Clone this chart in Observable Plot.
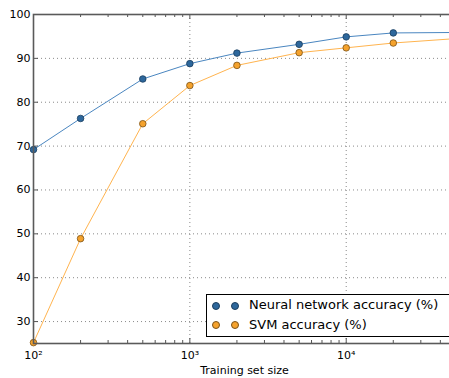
<!DOCTYPE html>
<html><head><meta charset="utf-8">
<script src="https://cdn.jsdelivr.net/npm/d3@7"></script>
<script src="https://cdn.jsdelivr.net/npm/@observablehq/plot@0.6"></script>
<style>
html,body{margin:0;padding:0;overflow:hidden;background:#fff;}
#wrap{position:relative;width:449px;height:378px;overflow:hidden;font-family:"DejaVu Sans",sans-serif;}
#wrap svg{max-width:none !important;}
#legend{position:absolute;left:206px;top:294px;width:260px;height:43px;border:1px solid #000;background:#fff;box-sizing:border-box;font-size:13px;color:#000;}
.mk{position:absolute;width:6px;height:6px;border-radius:50%;border:0.8px solid;}
.lbl{position:absolute;left:42px;white-space:nowrap;line-height:16px;}
</style>
</head><body><div id="wrap"></div>
<script>
const sizes = [100, 200, 500, 1000, 2000, 5000, 10000, 20000, 50000];
const nnAcc = [69.2, 76.3, 85.3, 88.8, 91.2, 93.2, 94.9, 95.8, 95.9];
const svmAcc = [25.2, 48.9, 75.1, 83.8, 88.4, 91.3, 92.4, 93.5, 94.5];
const seriesNames = ["Neural network accuracy (%)", "SVM accuracy (%)"];
const yTicks = [30, 40, 50, 60, 70, 80, 90, 100];
const yGrid = [30, 40, 50, 60, 70, 80, 90];
const xTicks = [100, 1000, 10000];
const xTickLabels = ["10²", "10³", "10⁴"];
const xGrid = [1000, 10000];
const xLabel = "Training set size";

const nnColor = {line: "#4a86c0", fill: "#2d679c", stroke: "#1b3d5e"};
const svmColor = {line: "#ffb44f", fill: "#f5a22c", stroke: "#7a5218"};

const nn = sizes.map((s, i) => ({size: s, acc: nnAcc[i]}));
const svm = sizes.map((s, i) => ({size: s, acc: svmAcc[i]}));
const xLabelMap = new Map(xTicks.map((t, i) => [t, xTickLabels[i]]));

const minorX = [];
for (const d of [100, 1000, 10000]) for (let k = 2; k <= 9; k++) if (d * k <= 50000) minorX.push(d * k);

const mT = 14, mB = 35, mL = 33, mR = 5, W = 460, H = 378;
const pH = H - mT - mB, pW = W - mL - mR;

const chart = Plot.plot({
  width: W, height: H,
  marginLeft: mL, marginRight: mR, marginTop: mT, marginBottom: mB,
  style: {fontFamily: "DejaVu Sans", fontSize: "11px", color: "#000", background: "#fff", maxWidth: "none"},
  x: {type: "log", domain: [100, 50000], axis: null},
  y: {domain: [25, 100], axis: null},
  marks: [
    Plot.gridY(yGrid, {stroke: "#8a8a8a", strokeOpacity: 1, strokeDasharray: "1,3"}),
    Plot.gridX(xGrid, {stroke: "#8a8a8a", strokeOpacity: 1, strokeDasharray: "1,3"}),
    Plot.tickX(minorX, {x: d => d, insetTop: pH - 3, stroke: "#555"}),
    Plot.tickX(minorX, {x: d => d, insetBottom: pH - 3, stroke: "#555"}),
    Plot.tickX(xTicks, {x: d => d, insetTop: pH - 5, stroke: "#555"}),
    Plot.tickX(xTicks, {x: d => d, insetBottom: pH - 5, stroke: "#555"}),
    Plot.tickY(yTicks, {y: d => d, insetRight: pW - 5, stroke: "#555"}),
    Plot.text(xTicks, {x: d => d, text: d => xLabelMap.get(d), frameAnchor: "bottom", dy: 12, lineAnchor: "middle", fontSize: 11, fill: "#000"}),
    Plot.text(yTicks, {y: d => d, text: d => String(d), frameAnchor: "left", dx: -3, textAnchor: "end", fontSize: 11, fill: "#000"}),
    Plot.text([xLabel], {frameAnchor: "bottom", dy: 27, lineAnchor: "middle", fontSize: 11, fill: "#000"}),
    Plot.line(nn, {x: "size", y: "acc", stroke: nnColor.line, strokeWidth: 1}),
    Plot.dot(nn, {x: "size", y: "acc", r: 3.3, fill: nnColor.fill, stroke: nnColor.stroke, strokeWidth: 0.8}),
    Plot.line(svm, {x: "size", y: "acc", stroke: svmColor.line, strokeWidth: 1}),
    Plot.dot(svm, {x: "size", y: "acc", r: 3.3, fill: svmColor.fill, stroke: svmColor.stroke, strokeWidth: 0.8}),
    Plot.frame({stroke: "#5a5a5a", strokeWidth: 1.6})
  ]
});

const wrap = document.getElementById("wrap");
wrap.appendChild(chart);

const legend = document.createElement("div");
legend.id = "legend";
const cols = [nnColor, svmColor];
seriesNames.forEach((name, i) => {
  const cy = 10 + i * 19.5;
  [8.3, 27.7].forEach(cx => {
    const m = document.createElement("div");
    m.className = "mk";
    m.style.left = (cx - 3.4) + "px";
    m.style.top = (cy - 3.4) + "px";
    m.style.background = cols[i].fill;
    m.style.borderColor = cols[i].stroke;
    legend.appendChild(m);
  });
  const t = document.createElement("div");
  t.className = "lbl";
  t.style.top = (cy - 8) + "px";
  t.textContent = name;
  legend.appendChild(t);
});
wrap.appendChild(legend);
</script>
</body></html>
